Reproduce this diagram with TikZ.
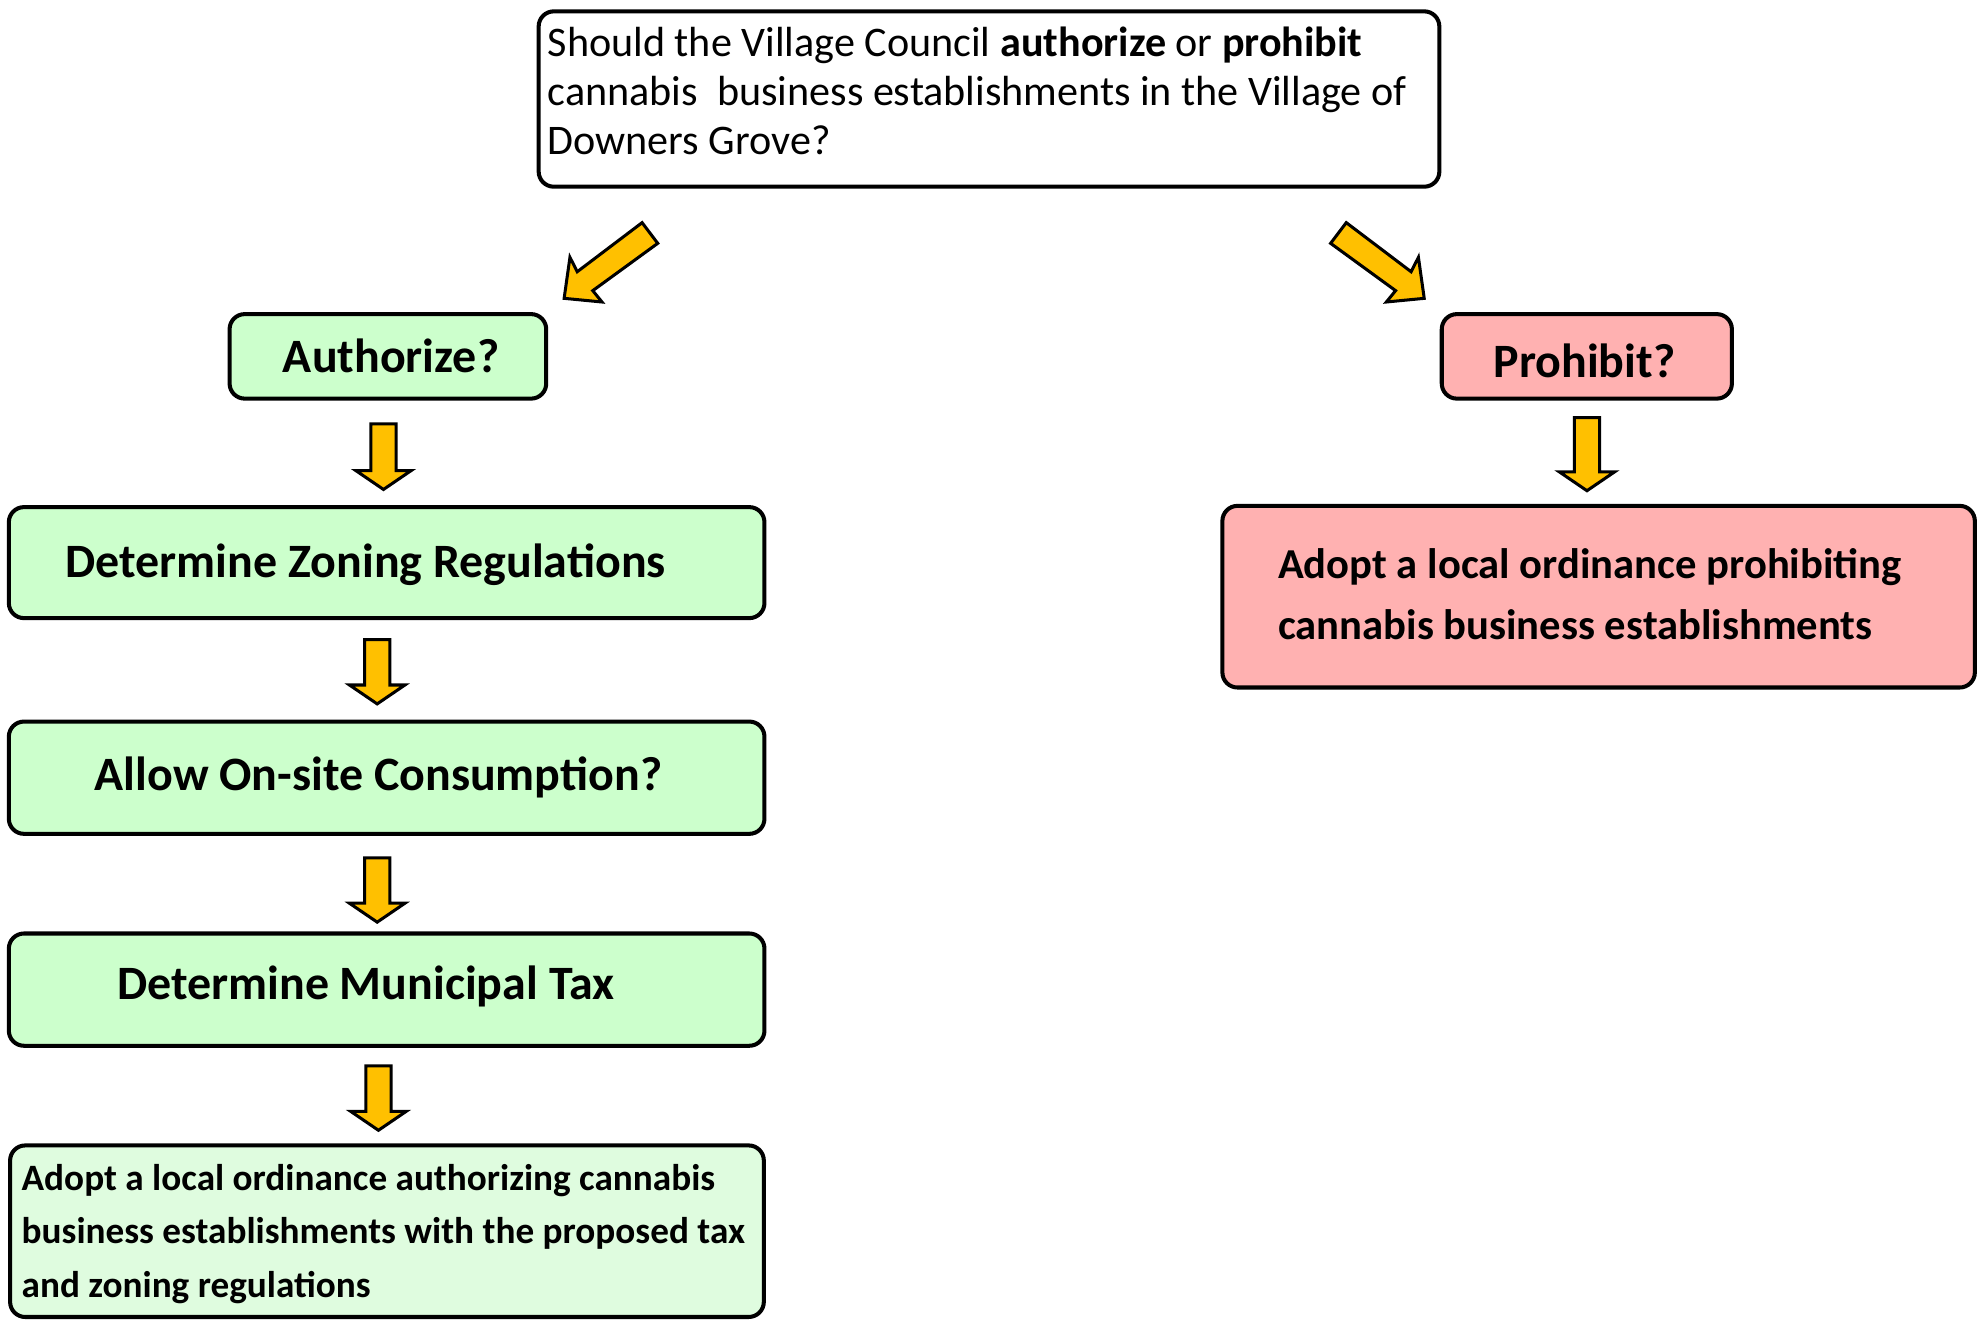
\documentclass[tikz,border=0pt]{standalone}
\usepackage{fontspec}
\setmainfont{Carlito}
\definecolor{boxgreen}{HTML}{CCFFCC}
\definecolor{lightgreen}{HTML}{DFFCDF}
\definecolor{boxpink}{HTML}{FFB1B1}
\definecolor{arrgold}{HTML}{FFC000}
\newcommand\dnarrow[3]{%
  \draw[arr] ({#1-10},#2) -- ({#1+10},#2) -- ({#1+10},{#3-15}) -- ({#1+22},{#3-15})
     -- (#1,#3) -- ({#1-22},{#3-15}) -- ({#1-10},{#3-15}) -- cycle;}
\begin{document}
\begin{tikzpicture}[x=1pt,y=-1pt,
  box/.style={draw=black, line width=3.2pt, rounded corners=12pt, inner sep=0pt},
  gbox/.style={box, fill=boxgreen},
  pbox/.style={box, fill=boxpink},
  big/.style={font=\bfseries\fontsize{38}{44}\selectfont, inner sep=0pt},
  arr/.style={draw=black, line width=2.4pt, fill=arrgold, line join=miter}]
\useasboundingbox (0,0) rectangle (1568,1048);
% question box
\node[box, fill=white, minimum width=714pt, minimum height=139pt] (q) at (784,78.5) {};
\node[anchor=west, align=left, inner sep=0pt, font=\fontsize{33.4}{39}\selectfont] (qt) at (434,72)
  {Should the Village Council \textbf{authorize} or \textbf{prohibit}\\
   cannabis~ business establishments in the Village of\\
   Downers Grove?};
% left branch
\node[gbox, minimum width=251pt, minimum height=67pt] (auth) at (307.5,282.5) {};
\node[big] (autht) at (310,282) {Authorize?};
\node[gbox, minimum width=599pt, minimum height=88pt] (zon) at (306.5,446) {};
\node[big] (zont) at (290,448) {Determine Zoning Regulations};
\node[gbox, minimum width=599pt, minimum height=89pt] (cons) at (306.5,616.5) {};
\node[big] (const) at (300,616) {Allow On-site Consumption?};
\node[gbox, minimum width=599pt, minimum height=89pt] (tax) at (306.5,784.5) {};
\node[big] (taxt) at (290,782) {Determine Municipal Tax};
\node[box, fill=lightgreen, minimum width=597.5pt, minimum height=136pt] (fin) at (306.75,976) {};
\node[anchor=west, align=left, inner sep=0pt, font=\bfseries\fontsize{29.5}{42.5}\selectfont] (fint) at (17,978)
  {Adopt a local ordinance authorizing cannabis\\
   business establishments with the proposed tax\\
   and zoning regulations};
% right branch
\node[pbox, minimum width=230pt, minimum height=67pt] (proh) at (1257.9,282.5) {};
\node[big] (proht) at (1256,286) {Prohibit?};
\node[pbox, minimum width=596.5pt, minimum height=144pt] (padopt) at (1267.25,473) {};
\node[anchor=west, align=left, inner sep=0pt, font=\bfseries\fontsize{33.8}{49}\selectfont] (padoptt) at (1013,471)
  {Adopt a local ordinance prohibiting\\
   cannabis business establishments};
% diagonal block arrows
\draw[arr] (509,176.5) -- (521.4,192.9) -- (469.9,230.4) -- (477.2,239.4) -- (447.2,236.5)
  -- (451.8,204) -- (457.6,215.4) -- cycle;
\draw[arr] (1067.2,176.5) -- (1054.8,192.9) -- (1106.3,230.4) -- (1099,239.4) -- (1129,236.5)
  -- (1124.4,204) -- (1118.6,215.4) -- cycle;
% vertical block arrows
\dnarrow{304}{336}{388}
\dnarrow{299}{507}{558}
\dnarrow{299}{680}{731}
\dnarrow{300}{845}{896}
\dnarrow{1258}{331}{389}
\end{tikzpicture}
\end{document}
